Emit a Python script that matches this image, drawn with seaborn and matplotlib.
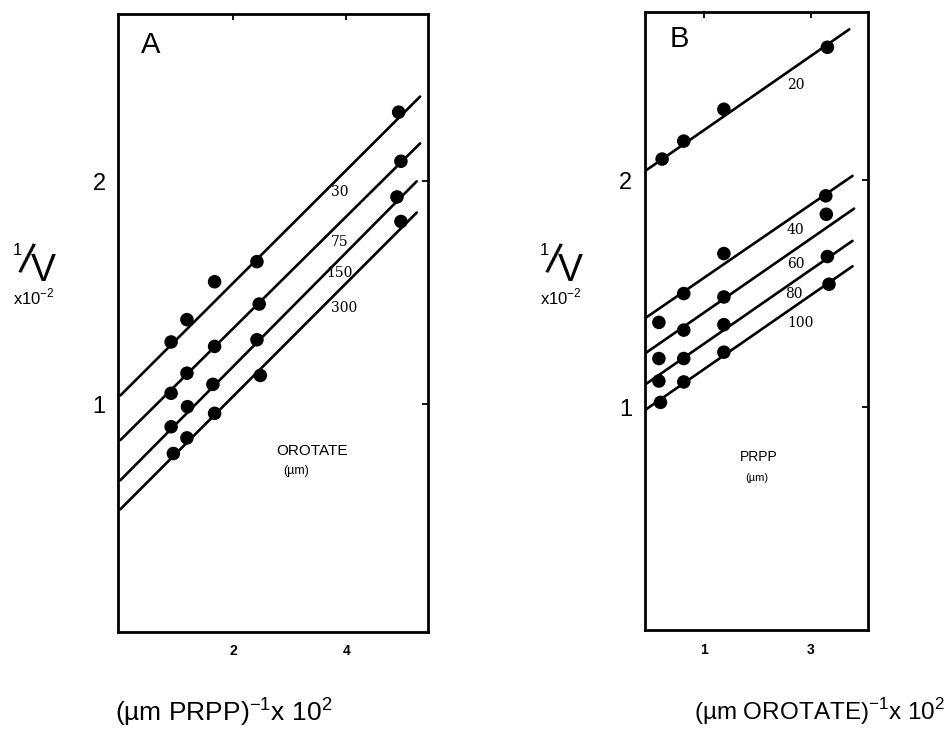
import matplotlib
matplotlib.use("Agg")
import matplotlib.pyplot as plt
import seaborn as sns
import pandas as pd

# ---------------- data ----------------
# Panel A: 1/v vs 1/[PRPP], series = orotate concentration (µM)
A_series = ["30", "75", "150", "300"]
A_x = [
    [0.90, 1.18, 1.67, 2.42, 4.93],
    [0.90, 1.18, 1.67, 2.46, 4.97],
    [0.90, 1.19, 1.64, 2.42, 4.90],
    [0.94, 1.18, 1.67, 2.48, 4.97],
]
A_y = [
    [1.28, 1.38, 1.55, 1.64, 2.31],
    [1.05, 1.14, 1.26, 1.45, 2.09],
    [0.90, 0.99, 1.09, 1.29, 1.93],
    [0.78, 0.85, 0.96, 1.13, 1.82],
]
A_line_x0 = [0.0, 0.0, 0.0, 0.0]
A_line_x1 = [5.31, 5.31, 5.25, 5.25]
A_line_y0 = [1.04, 0.84, 0.66, 0.53]
A_line_y1 = [2.38, 2.17, 2.00, 1.86]
A_lab_x = [3.88, 3.88, 3.88, 3.97]
A_lab_y = [1.95, 1.73, 1.59, 1.43]

# Panel B: 1/v vs 1/[orotate], series = PRPP concentration (µM)
B_series = ["20", "40", "60", "80", "100"]
B_x = [
    [0.22, 0.625, 1.375, 3.31],
    [0.16, 0.625, 1.375, 3.28],
    [0.16, 0.625, 1.375, 3.29],
    [0.16, 0.625, 1.375, 3.31],
    [0.19, 0.625, 1.375, 3.34],
]
B_y = [
    [2.093, 2.172, 2.312, 2.585],
    [1.374, 1.501, 1.677, 1.931],
    [1.215, 1.340, 1.486, 1.850],
    [1.116, 1.215, 1.364, 1.664],
    [1.022, 1.112, 1.243, 1.542],
]
B_line_x0 = [-0.10, -0.10, -0.10, -0.10, -0.10]
B_line_x1 = [3.72, 3.78, 3.81, 3.78, 3.78]
B_line_y0 = [2.040, 1.392, 1.237, 1.100, 0.988]
B_line_y1 = [2.664, 2.019, 1.875, 1.733, 1.621]
B_lab_x = [2.72, 2.71, 2.72, 2.69, 2.81]
B_lab_y = [2.42, 1.78, 1.63, 1.50, 1.37]

A_xticks = [2, 4]
B_xticks = [1, 3]
y_ticks = [1, 2]

# ---------------- style ----------------
sns.set_style("white")
plt.rcParams["font.family"] = ["Liberation Sans", "DejaVu Sans"]
plt.rcParams["mathtext.fontset"] = "custom"
plt.rcParams["mathtext.rm"] = "Liberation Sans"
for k in ("text.color", "axes.labelcolor", "xtick.color", "ytick.color"):
    plt.rcParams[k] = "black"

fig = plt.figure(figsize=(9.52, 7.53), dpi=100)
axA = fig.add_axes([0.124, 0.1607, 0.3256, 0.8207])
axB = fig.add_axes([0.6775, 0.1633, 0.2343, 0.8207])


def build(series, xs, ys):
    rows = []
    for s, xx, yy in zip(series, xs, ys):
        for a, b in zip(xx, yy):
            rows.append({"series": s, "x": a, "y": b})
    return pd.DataFrame(rows)


def build_lines(series, x0, x1, y0, y1):
    rows = []
    for s, a0, a1, b0, b1 in zip(series, x0, x1, y0, y1):
        rows.append({"series": s, "x": a0, "y": b0})
        rows.append({"series": s, "x": a1, "y": b1})
    return pd.DataFrame(rows)


def draw(ax, series, xs, ys, x0, x1, y0, y1, labx, laby):
    pal = {s: "black" for s in series}
    lines = build_lines(series, x0, x1, y0, y1)
    sns.lineplot(data=lines, x="x", y="y", hue="series", palette=pal,
                 units="series", estimator=None, sort=False,
                 linewidth=1.9, legend=False, ax=ax)
    pts = build(series, xs, ys)
    sns.scatterplot(data=pts, x="x", y="y", hue="series", palette=pal,
                    s=95, edgecolor="black", linewidth=0, legend=False,
                    ax=ax, zorder=5)
    for s, lx, ly in zip(series, labx, laby):
        ax.text(lx, ly, s, fontsize=10, ha="center", va="center",
                family=["DejaVu Serif"], color="black")


draw(axA, A_series, A_x, A_y, A_line_x0, A_line_x1, A_line_y0, A_line_y1,
     A_lab_x, A_lab_y)
draw(axB, B_series, B_x, B_y, B_line_x0, B_line_x1, B_line_y0, B_line_y1,
     B_lab_x, B_lab_y)

axA.set_xlim(-0.04, 5.45)
axA.set_ylim(-0.02, 2.75)
axB.set_xlim(-0.10, 4.07)
axB.set_ylim(0.02, 2.74)

for ax, xt in ((axA, A_xticks), (axB, B_xticks)):
    ax.set_xticks(xt)
    ax.set_yticks(y_ticks)
    ax.set_xticklabels([str(t) for t in xt], fontsize=10, fontweight="bold")
    ax.set_yticklabels([str(t) for t in y_ticks], fontsize=17)
    ax.tick_params(axis="both", direction="in", length=4, width=1.3,
                   top=True, right=True, color="black")
    ax.tick_params(axis="x", pad=9)
    ax.tick_params(axis="y", pad=9)
    for sp in ax.spines.values():
        sp.set_visible(True)
        sp.set_color("black")
        sp.set_linewidth(2.0)
    ax.set_xlabel("")
    ax.set_ylabel("")

# panel letters and in-plot legend captions
axA.text(0.54, 2.61, "A", fontsize=21, ha="center", va="center")
axB.text(0.55, 2.62, "B", fontsize=21, ha="center", va="center")
axA.text(3.40, 0.79, "OROTATE", fontsize=11, ha="center", va="center")
axA.text(3.12, 0.70, "(µm)", fontsize=9, ha="center", va="center")
axB.text(2.03, 0.78, "PRPP", fontsize=10, ha="center", va="center")
axB.text(2.00, 0.69, "(µm)", fontsize=8, ha="center", va="center")

# y labels: "1/V" built from pieces, plus "x10^-2"
W, H = 952.0, 753.0
for x0 in (0, 527):
    fig.text((x0 + 17) / W, 1 - 251 / H, "1", fontsize=12, ha="center", va="center")
    fig.text((x0 + 26) / W, 1 - 262 / H, "/", fontsize=30, ha="center", va="center",
             rotation=-12)
    fig.text((x0 + 43) / W, 1 - 271 / H, "V", fontsize=27, ha="center", va="center")
    fig.text((x0 + 34) / W, 1 - 297 / H, r"x10$^{\mathrm{-2}}$", fontsize=12,
             ha="center", va="center")

# x labels
fig.text(224 / W, 1 - 712 / H, r"(µm PRPP)$^{\mathrm{-1}}$x 10$^{\mathrm{2}}$",
         fontsize=19, ha="center", va="center")
fig.text(820 / W, 1 - 712 / H, r"(µm OROTATE)$^{\mathrm{-1}}$x 10$^{\mathrm{2}}$",
         fontsize=17.5, ha="center", va="center")

fig.savefig("out.png", dpi=100, facecolor="white")
